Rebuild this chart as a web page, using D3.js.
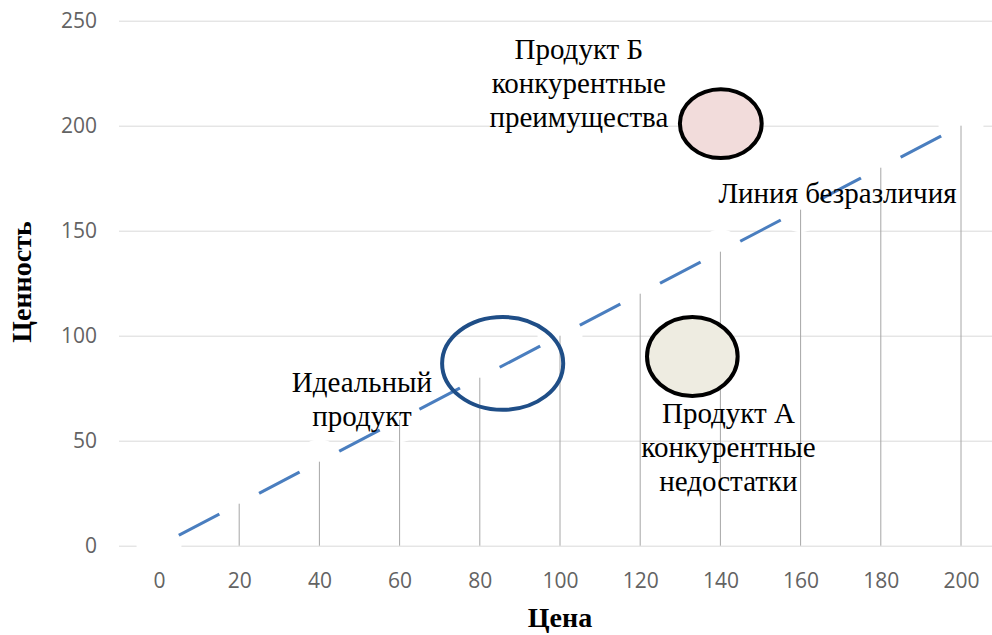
<!DOCTYPE html>
<html>
<head>
<meta charset="utf-8">
<script src="https://cdn.jsdelivr.net/npm/d3@7"></script>
<style>
  body { margin: 0; background: #fff; }
  svg { display: block; }
</style>
</head>
<body>
<svg id="chart" width="992" height="635"></svg>
<script>
// Axis ticks
const priceTicks = [0, 20, 40, 60, 80, 100, 120, 140, 160, 180, 200];
const valueTicks = [0, 50, 100, 150, 200, 250];

// Indifference line: value equals price
const indifferencePrice = [0, 20, 40, 60, 80, 100, 120, 140, 160, 180, 200];
const indifferenceValue = [0, 20, 40, 60, 80, 100, 120, 140, 160, 180, 200];

// Product zones (centre and half-extent in price / value units)
const productKeys = ["ideal", "productA", "productB"];
const productPrice = [85.7, 133.0, 140.1];
const productValue = [86.8, 90.1, 201.0];
const productHalfPrice = [15.1, 11.3, 10.2];
const productHalfValue = [22.1, 18.8, 16.4];

// Annotations (anchor = centre of the first line's baseline, in price / value units)
const noteLines = [
  ["Продукт Б", "конкурентные", "преимущества"],
  ["Идеальный", "продукт"],
  ["Продукт А", "конкурентные", "недостатки"],
  ["Линия безразличия"]
];
const notePrice = [104.7, 50.6, 142.0, 169.2];
const noteValue = [231.8, 73.2, 58.4, 163.2];

const svg = d3.select("#chart");
const W = 992;

const x = d3.scaleLinear().domain([0, 200]).range([159, 961]);
const y = d3.scaleLinear().domain([0, 250]).range([545.7, 20.7]);
const plotLeft = 119;

// Horizontal gridlines + value labels
const yAxis = svg.append("g")
  .attr("transform", `translate(${plotLeft},0)`)
  .call(d3.axisLeft(y).tickValues(valueTicks).tickSize(-(W - plotLeft)).tickPadding(22));
yAxis.select(".domain").remove();
yAxis.selectAll(".tick line").attr("stroke", "#d9d9d9").attr("stroke-width", 1);
yAxis.selectAll(".tick text")
  .attr("fill", "#636363")
  .style("font-family", "'Open Sans', sans-serif")
  .style("font-size", "21px");

// Price labels
const xAxis = svg.append("g")
  .attr("transform", `translate(0,${y(0)})`)
  .call(d3.axisBottom(x).tickValues(priceTicks).tickSize(0).tickPadding(27));
xAxis.select(".domain").remove();
xAxis.selectAll(".tick text")
  .attr("fill", "#636363")
  .style("font-family", "'Open Sans', sans-serif")
  .style("font-size", "21px");

const pts = indifferencePrice.map((p, i) => ({ p, v: indifferenceValue[i] }));

// Indifference line
svg.append("path")
  .datum(pts)
  .attr("fill", "none")
  .attr("stroke", "#4a7ebf")
  .attr("stroke-width", 3)
  .attr("d", d3.line().x(d => x(d.p)).y(d => y(d.v)));

// White point markers
svg.append("g").selectAll("circle")
  .data(pts)
  .join("circle")
  .attr("cx", d => x(d.p))
  .attr("cy", d => y(d.v))
  .attr("r", 22.5)
  .attr("fill", "#fff");

// Drop lines from each point to the price axis
svg.append("g").selectAll("line")
  .data(pts.filter(d => d.v > 0))
  .join("line")
  .attr("x1", d => x(d.p)).attr("x2", d => x(d.p))
  .attr("y1", y(0)).attr("y2", d => y(d.v))
  .attr("stroke", "#a6a6a6")
  .attr("stroke-width", 1);

// Product zones
const zoneStyle = {
  ideal:    { fill: "none",    stroke: "#1f4e87" },
  productA: { fill: "#eeece1", stroke: "#000" },
  productB: { fill: "#f2dcdb", stroke: "#000" }
};
svg.append("g").selectAll("ellipse")
  .data(productKeys.map((k, i) => ({
    k, p: productPrice[i], v: productValue[i], hp: productHalfPrice[i], hv: productHalfValue[i]
  })))
  .join("ellipse")
  .attr("cx", d => x(d.p))
  .attr("cy", d => y(d.v))
  .attr("rx", d => x(d.p + d.hp) - x(d.p))
  .attr("ry", d => y(d.v) - y(d.v + d.hv))
  .attr("fill", d => zoneStyle[d.k].fill)
  .attr("stroke", d => zoneStyle[d.k].stroke)
  .attr("stroke-width", 4);

// Annotations
const notes = svg.append("g")
  .style("font-family", "'Liberation Serif', 'Times New Roman', serif")
  .style("font-size", "29px")
  .attr("fill", "#000")
  .attr("text-anchor", "middle");
noteLines.forEach((lines, i) => {
  const t = notes.append("text")
    .attr("x", x(notePrice[i]))
    .attr("y", y(noteValue[i]));
  lines.forEach((s, j) => {
    t.append("tspan")
      .attr("x", x(notePrice[i]))
      .attr("dy", j === 0 ? 0 : 34)
      .text(s);
  });
});

// Axis titles
svg.append("text")
  .attr("x", 560).attr("y", 627)
  .attr("text-anchor", "middle")
  .style("font-family", "'Liberation Serif', 'Times New Roman', serif")
  .style("font-weight", "bold")
  .style("font-size", "28px")
  .text("Цена");

svg.append("text")
  .attr("transform", "translate(31,282) rotate(-90)")
  .attr("text-anchor", "middle")
  .style("font-family", "'Liberation Serif', 'Times New Roman', serif")
  .style("font-weight", "bold")
  .style("font-size", "28px")
  .text("Ценность");
</script>
</body>
</html>
